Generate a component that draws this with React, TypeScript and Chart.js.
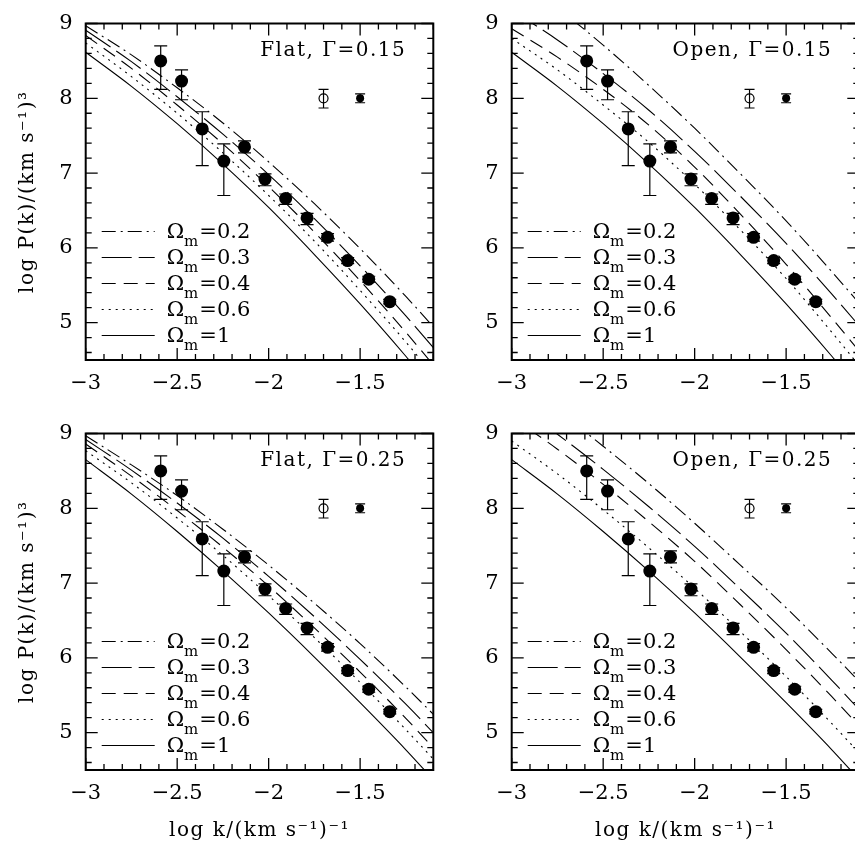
import React, { useEffect, useRef } from "react";
import { Chart, registerables } from "chart.js";
Chart.register(...registerables);

const FONT = "'DejaVu Serif', 'Liberation Serif', serif";

// ---- data ----
const curveX = [-3, -2.75, -2.5, -2.25, -2, -1.75, -1.5, -1.25, -1.0];
const omegaLabels = ["0.2", "0.3", "0.4", "0.6", "1"];

// Flat, Gamma = 0.15
const flat15_om02 = [8.97, 8.58, 8.14, 7.67, 7.15, 6.59, 5.99, 5.35, 4.67];
const flat15_om03 = [8.91, 8.49, 8.02, 7.52, 6.98, 6.39, 5.76, 5.09, 4.38];
const flat15_om04 = [8.84, 8.40, 7.91, 7.39, 6.82, 6.21, 5.56, 4.87, 4.14];
const flat15_om06 = [8.74, 8.29, 7.80, 7.27, 6.70, 6.09, 5.43, 4.74, 4.00];
const g15_om1 = [8.615, 8.16, 7.66, 7.12, 6.54, 5.91, 5.25, 4.55, 3.82];

// Open, Gamma = 0.15
const open15_om02 = [9.67, 9.21, 8.71, 8.17, 7.60, 6.99, 6.36, 5.68, 4.97];
const open15_om03 = [9.18, 8.78, 8.33, 7.84, 7.29, 6.69, 6.06, 5.38, 4.67];
const open15_om04 = [8.93, 8.55, 8.12, 7.64, 7.08, 6.45, 5.78, 5.06, 4.32];
const open15_om06 = [8.80, 8.38, 7.91, 7.41, 6.85, 6.24, 5.59, 4.87, 4.12];

// Flat, Gamma = 0.25
const flat25_om02 = [8.97, 8.58, 8.17, 7.72, 7.24, 6.73, 6.19, 5.61, 5.00];
const flat25_om03 = [8.92, 8.51, 8.07, 7.60, 7.09, 6.55, 5.98, 5.38, 4.74];
const flat25_om04 = [8.86, 8.43, 7.97, 7.48, 6.96, 6.40, 5.81, 5.19, 4.53];
const flat25_om06 = [8.77, 8.34, 7.87, 7.37, 6.83, 6.27, 5.67, 5.04, 4.38];
const g25_om1 = [8.65, 8.19, 7.69, 7.16, 6.60, 6.01, 5.40, 4.77, 4.10];

// Open, Gamma = 0.25
const open25_om02 = [9.75, 9.31, 8.83, 8.33, 7.80, 7.24, 6.67, 6.06, 5.43];
const open25_om03 = [9.43, 8.99, 8.52, 8.02, 7.49, 6.92, 6.33, 5.70, 5.04];
const open25_om04 = [9.22, 8.79, 8.32, 7.82, 7.29, 6.71, 6.11, 5.48, 4.82];
const open25_om06 = [8.90, 8.46, 7.98, 7.47, 6.93, 6.35, 5.75, 5.12, 4.46];

// measured points
const logK = [-2.59, -2.476, -2.363, -2.245, -2.132, -2.02, -1.907, -1.79, -1.678, -1.568, -1.453, -1.338];
const logP = [8.50, 8.23, 7.59, 7.16, 7.35, 6.92, 6.66, 6.40, 6.14, 5.83, 5.58, 5.28];
const logPLow = [8.12, 7.98, 7.10, 6.70, 7.27, 6.83, 6.58, 6.31, 6.09, 5.79, 5.54, 5.25];
const logPHigh = [8.70, 8.38, 7.82, 7.39, 7.43, 6.99, 6.72, 6.46, 6.19, 5.87, 5.62, 5.31];

// reference error-bar symbols
const refOpenX = [-1.70];
const refOpenY = [8.0];
const refOpenLow = [7.87];
const refOpenHigh = [8.12];
const refFilledX = [-1.50];
const refFilledY = [8.0];
const refFilledLow = [7.94];
const refFilledHigh = [8.06];

const xMajorTicks = [-3, -2.5, -2, -1.5];
const yMajorTicks = [5, 6, 7, 8, 9];

const X_MIN = -3, X_MAX = -1.1, Y_MIN = 4.5, Y_MAX = 9;
const DASHES = [[14, 5, 2, 5], [30, 7], [14, 8], [2, 5], []];

type Geo = { left: number; top: number; width: number; height: number; yw: number; pt: number; pr: number; xh: number };

const fmt = (v: number) => (v < 0 ? "\u2212" + String(Math.abs(v)) : String(v));

const panelPlugin = {
  id: "panelDeco",
  afterDraw(chart: any) {
    const { ctx, chartArea: a, scales } = chart;
    const xs = scales.x, ys = scales.y;
    const o = chart.options.plugins.panelDeco;
    ctx.save();
    ctx.strokeStyle = "#000";
    ctx.fillStyle = "#000";
    // error bars
    ctx.save();
    ctx.beginPath();
    ctx.rect(a.left, a.top, a.right - a.left, a.bottom - a.top);
    ctx.clip();
    chart.data.datasets.forEach((ds: any) => {
      if (!ds.errLo) return;
      ctx.lineWidth = 1.2;
      ctx.setLineDash([]);
      ds.data.forEach((p: any, i: number) => {
        const px = xs.getPixelForValue(p.x);
        const y1 = ys.getPixelForValue(ds.errLo[i]);
        const y2 = ys.getPixelForValue(ds.errHi[i]);
        const c = ds.capHalf;
        ctx.beginPath();
        ctx.moveTo(px, y1); ctx.lineTo(px, y2);
        ctx.moveTo(px - c, y1); ctx.lineTo(px + c, y1);
        ctx.moveTo(px - c, y2); ctx.lineTo(px + c, y2);
        ctx.stroke();
      });
    });
    ctx.restore();

    // ticks
    ctx.setLineDash([]);
    ctx.lineWidth = 1.3;
    ctx.beginPath();
    for (let i = 0; i <= 19; i++) {
      const v = X_MIN + 0.1 * i;
      if (v > X_MAX + 1e-6) break;
      const major = Math.abs(v * 2 - Math.round(v * 2)) < 1e-6;
      const L = major ? 12 : 6;
      const px = xs.getPixelForValue(v);
      ctx.moveTo(px, a.bottom); ctx.lineTo(px, a.bottom - L);
      ctx.moveTo(px, a.top); ctx.lineTo(px, a.top + L);
    }
    for (let i = 0; i <= 25; i++) {
      const v = Y_MIN + 0.1 + 0.2 * i;
      if (v > Y_MAX + 1e-6) break;
      const major = Math.abs(v - Math.round(v)) < 1e-6;
      const L = major ? 12 : 6;
      const py = ys.getPixelForValue(v);
      ctx.moveTo(a.left, py); ctx.lineTo(a.left + L, py);
      ctx.moveTo(a.right, py); ctx.lineTo(a.right - L, py);
    }
    ctx.stroke();

    // frame
    ctx.lineWidth = 2;
    ctx.strokeRect(a.left, a.top, a.right - a.left, a.bottom - a.top);

    // annotation
    ctx.font = `20px ${FONT}`;
    (ctx as any).letterSpacing = "1.5px";
    ctx.textAlign = "right";
    ctx.textBaseline = "alphabetic";
    ctx.fillText(o.label, a.right - 27, a.top + 32.5);

    // legend
    (ctx as any).letterSpacing = "0px";
    ctx.textAlign = "left";
    ctx.lineWidth = 1.2;
    omegaLabels.forEach((lab, i) => {
      const ly = a.top + 208 + i * 26;
      ctx.setLineDash(DASHES[i]);
      ctx.beginPath();
      ctx.moveTo(a.left + 16, ly);
      ctx.lineTo(a.left + 69, ly);
      ctx.stroke();
      ctx.setLineDash([]);
      let tx = a.left + 81;
      ctx.font = `21px ${FONT}`;
      ctx.fillText("\u03A9", tx, ly + 6);
      tx += ctx.measureText("\u03A9").width;
      ctx.font = `15px ${FONT}`;
      ctx.fillText("m", tx, ly + 14);
      tx += ctx.measureText("m").width + 1;
      ctx.font = `21px ${FONT}`;
      ctx.fillText("=" + lab, tx, ly + 6);
    });

    // axis titles
    (ctx as any).letterSpacing = "1.5px";
    ctx.font = `20px ${FONT}`;
    if (o.yTitle) {
      ctx.save();
      ctx.translate(a.left - 53, (a.top + a.bottom) / 2);
      ctx.rotate(-Math.PI / 2);
      ctx.textAlign = "center";
      ctx.textBaseline = "alphabetic";
      ctx.fillText("log P(k)/(km s\u207B\u00B9)\u00B3", 0, 0);
      ctx.restore();
    }
    if (o.xTitle) {
      ctx.textAlign = "center";
      ctx.textBaseline = "alphabetic";
      ctx.fillText("log k/(km s\u207B\u00B9)\u207B\u00B9", (a.left + a.right) / 2, a.bottom + 66);
    }
    ctx.restore();
  },
};

function Panel({ geo, curves, label, xTitle, yTitle }: { geo: Geo; curves: number[][]; label: string; xTitle: boolean; yTitle: boolean }) {
  const ref = useRef<HTMLCanvasElement | null>(null);
  useEffect(() => {
    if (!ref.current) return;
    const datasets: any[] = [
      {
        data: logK.map((x, i) => ({ x, y: logP[i] })),
        showLine: false,
        pointRadius: 6.5,
        pointBackgroundColor: "#000",
        pointBorderWidth: 0,
        errLo: logPLow,
        errHi: logPHigh,
        capHalf: 6.5,
      },
      {
        data: refOpenX.map((x, i) => ({ x, y: refOpenY[i] })),
        showLine: false,
        pointRadius: 4.5,
        pointBackgroundColor: "#fff",
        pointBorderColor: "#000",
        pointBorderWidth: 1.2,
        errLo: refOpenLow,
        errHi: refOpenHigh,
        capHalf: 5,
      },
      {
        data: refFilledX.map((x, i) => ({ x, y: refFilledY[i] })),
        showLine: false,
        pointRadius: 4,
        pointBackgroundColor: "#000",
        pointBorderWidth: 0,
        errLo: refFilledLow,
        errHi: refFilledHigh,
        capHalf: 5,
      },
      ...curves.map((ys, i) => ({
        data: curveX.map((x, j) => ({ x, y: ys[j] })),
        borderColor: "#000",
        borderWidth: 1.1,
        borderDash: DASHES[i],
        pointRadius: 0,
        cubicInterpolationMode: "monotone",
        fill: false,
      })),
    ];
    const tickFont = { family: FONT, size: 21, lineHeight: 1 };
    const chart = new Chart(ref.current, {
      type: "line",
      data: { datasets },
      options: {
        animation: false,
        responsive: true,
        maintainAspectRatio: false,
        devicePixelRatio: 1,
        events: [],
        layout: { padding: { top: geo.pt, right: geo.pr, left: 0, bottom: 0 } },
        plugins: {
          legend: { display: false },
          tooltip: { enabled: false },
          panelDeco: { label, xTitle, yTitle },
        } as any,
        scales: {
          x: {
            type: "linear",
            min: X_MIN,
            max: X_MAX,
            afterBuildTicks: (s: any) => { s.ticks = xMajorTicks.map((v) => ({ value: v })); },
            afterFit: (s: any) => { s.height = geo.xh; },
            ticks: { callback: (v: any) => fmt(Number(v)), font: tickFont, color: "#000", padding: 13, maxRotation: 0, autoSkip: false },
            grid: { display: false, drawTicks: false },
            border: { display: false },
          },
          y: {
            type: "linear",
            min: Y_MIN,
            max: Y_MAX,
            afterBuildTicks: (s: any) => { s.ticks = yMajorTicks.map((v) => ({ value: v })); },
            afterFit: (s: any) => { s.width = geo.yw; },
            ticks: { callback: (v: any) => fmt(Number(v)), font: tickFont, color: "#000", padding: 13, autoSkip: false },
            grid: { display: false, drawTicks: false },
            border: { display: false },
          },
        },
      } as any,
      plugins: [panelPlugin],
    });
    return () => chart.destroy();
  }, []);
  return (
    <div style={{ position: "absolute", left: geo.left, top: geo.top, width: geo.width, height: geo.height }}>
      <canvas ref={ref} />
    </div>
  );
}

const geoTL: Geo = { left: 0, top: 0, width: 440, height: 410, yw: 85.7, pt: 13.3, pr: 6.7, xh: 50 };
const geoTR: Geo = { left: 436, top: 0, width: 430, height: 410, yw: 75.7, pt: 13.3, pr: 6.7, xh: 50 };
const geoBL: Geo = { left: 0, top: 410, width: 440, height: 436, yw: 85.7, pt: 12.3, pr: 6.7, xh: 76 };
const geoBR: Geo = { left: 436, top: 410, width: 430, height: 436, yw: 75.7, pt: 12.3, pr: 6.7, xh: 76 };

export default function App() {
  return (
    <div style={{ position: "absolute", left: 0, top: 0, width: 855, height: 846, overflow: "hidden", background: "#fff" }}>
      <Panel geo={geoTL} curves={[flat15_om02, flat15_om03, flat15_om04, flat15_om06, g15_om1]} label={"Flat, \u0393=0.15"} xTitle={false} yTitle={true} />
      <Panel geo={geoTR} curves={[open15_om02, open15_om03, open15_om04, open15_om06, g15_om1]} label={"Open, \u0393=0.15"} xTitle={false} yTitle={false} />
      <Panel geo={geoBL} curves={[flat25_om02, flat25_om03, flat25_om04, flat25_om06, g25_om1]} label={"Flat, \u0393=0.25"} xTitle={true} yTitle={true} />
      <Panel geo={geoBR} curves={[open25_om02, open25_om03, open25_om04, open25_om06, g25_om1]} label={"Open, \u0393=0.25"} xTitle={true} yTitle={false} />
    </div>
  );
}
